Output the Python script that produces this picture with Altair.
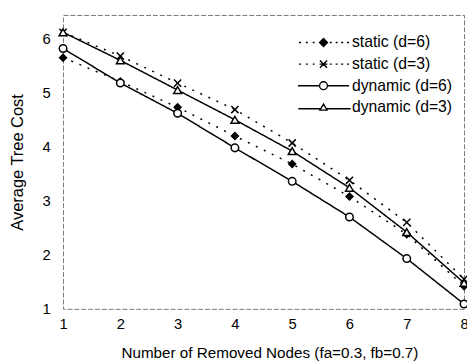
import altair as alt
import pandas as pd

# ---- data ----
nodes = [1, 2, 3, 4, 5, 6, 7, 8]
series_names = ["static (d=6)", "static (d=3)", "dynamic (d=6)", "dynamic (d=3)"]
static_d6 = [5.65, 5.21, 4.73, 4.20, 3.68, 3.08, 2.38, 1.42]
static_d3 = [6.12, 5.68, 5.18, 4.69, 4.07, 3.38, 2.60, 1.55]
dynamic_d6 = [5.82, 5.18, 4.62, 3.98, 3.36, 2.70, 1.93, 1.09]
dynamic_d3 = [6.12, 5.60, 5.05, 4.50, 3.92, 3.24, 2.42, 1.48]
y_ticks = [1, 2, 3, 4, 5, 6]
x_ticks = nodes

rows = []
for name, vals in zip(series_names, [static_d6, static_d3, dynamic_d6, dynamic_d3]):
    for n, v in zip(nodes, vals):
        rows.append({"nodes": n, "cost": v, "series": name})
df = pd.DataFrame(rows)

# ---- styles ----
X_PATH = "M-1,-1L1,1M-1,1L1,-1"
plot_shapes = ["diamond", X_PATH, "circle", "triangle-up"]
plot_fills = ["black", "black", "white", "white"]
plot_strokes = ["black", "black", "black", "black"]
plot_sizes = [49, 64, 81, 64]
dashes = [[2, 7], [2, 7], [1, 0], [1, 0]]

dots_l = "M-6.25,0L-5.75,0M-4.5,0L-4,0M-2.75,0L-2.25,0"
dots_r = "M1.6,0L2.1,0M3.1,0L3.6,0M4.5,0L5,0M6,0L6.5,0"
leg_shapes = [
    dots_l + dots_r + "M0,-1L1,0L0,1L-1,0Z",
    dots_l + dots_r + "M-0.9,-0.9L0.9,0.9M-0.9,0.9L0.9,-0.9M-1,0L1,0",
    "M-6.5,0L-1,0M1,0L6.5,0M1,0A1,1,0,1,1,-1,0A1,1,0,1,1,1,0Z",
    "M-6.4,0.35L-0.7,0.35M0.7,0.35L6.9,0.35M0,-0.85L0.9,0.7L-0.9,0.7Z",
]

FONT = "Liberation Sans"

x_enc = alt.X(
    "nodes:Q",
    scale=alt.Scale(domain=[1, 8], nice=False, zero=False),
    axis=alt.Axis(
        values=x_ticks, format="d", title="Number of Removed Nodes (fa=0.3, fb=0.7)",
        grid=False, domain=False, ticks=False, labelPadding=8,
        labelFontSize=15, titleFontSize=15.5, titleFontWeight="normal",
        titleX=210, titleY=37, titleBaseline="top", titleAlign="center",
        labelFlush=False,
    ),
)
y_enc = alt.Y(
    "cost:Q",
    scale=alt.Scale(domain=[1, 6.44], nice=False, zero=False),
    axis=alt.Axis(
        values=y_ticks, format="d", title="Average Tree Cost",
        grid=False, domain=False, ticks=False, labelPadding=13,
        labelFontSize=15, titleFontSize=16.7, titleFontWeight="normal",
        titleX=-46.5, titleY=149.5, titleBaseline="middle", titleAlign="center",
        labelFlush=False,
    ),
)

lines = alt.Chart(df).mark_line(color="black", strokeWidth=1.5).encode(
    x=x_enc, y=y_enc,
    detail="series:N",
    strokeDash=alt.StrokeDash("series:N", scale=alt.Scale(domain=series_names, range=dashes), legend=None),
)

points = alt.Chart(df).mark_point(stroke="black", strokeWidth=1.5, opacity=1, fillOpacity=1).encode(
    x="nodes:Q", y="cost:Q",
    shape=alt.Shape("series:N", scale=alt.Scale(domain=series_names, range=plot_shapes), legend=None),
    fill=alt.Fill("series:N", scale=alt.Scale(domain=series_names, range=plot_fills), legend=None),
    size=alt.Size("series:N", scale=alt.Scale(domain=series_names, range=plot_sizes), legend=None),
)

leg = alt.Legend(
    title=None, orient="none", legendX=257, legendY=20, padding=0,
    symbolSize=64, symbolStrokeWidth=1.4, symbolStrokeColor="black",
    labelFontSize=16, labelFont=FONT, labelColor="black", labelOffset=21,
    rowPadding=6,
)
legend_layer = alt.Chart(df).transform_filter("false").mark_point(
    strokeWidth=1.4, opacity=1, fillOpacity=1, strokeOpacity=1
).encode(
    x="nodes:Q", y="cost:Q",
    shape=alt.Shape("series:N", scale=alt.Scale(domain=series_names, range=leg_shapes), legend=leg),
    fill=alt.Fill("series:N", scale=alt.Scale(domain=series_names, range=plot_fills), legend=leg),
    stroke=alt.Stroke("series:N", scale=alt.Scale(domain=series_names, range=plot_strokes), legend=leg),
)

chart = alt.layer(lines, points, legend_layer).resolve_scale(
    shape="independent", fill="independent", stroke="independent"
).properties(
    width=408, height=299,
    autosize=alt.AutoSizeParams(type="none"),
    padding={"left": 56, "top": 4, "right": 3, "bottom": 52},
).configure(font=FONT).configure_view(
    stroke="#777", strokeDash=[5, 2], strokeWidth=1
).configure_axis(
    labelColor="black", titleColor="black", labelFont=FONT, titleFont=FONT
)

chart.save("out.html", embed_options={"renderer": "svg", "actions": False})
